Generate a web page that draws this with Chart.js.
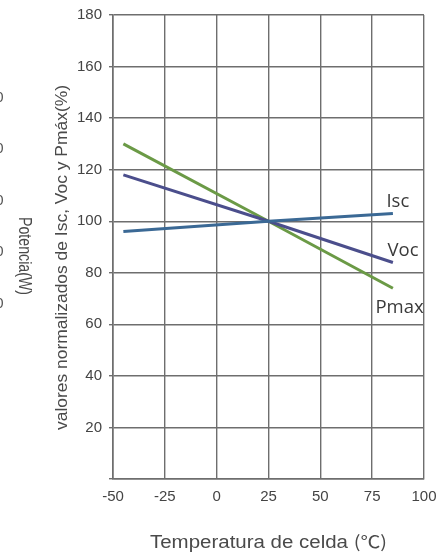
<!DOCTYPE html>
<html><head><meta charset="utf-8">
<script src="https://cdn.jsdelivr.net/npm/chart.js@4/dist/chart.umd.min.js"></script>
<style>html,body{margin:0;padding:0;background:#fff}#wrap{width:438px;height:555px}</style>
</head><body><div id="wrap"><canvas id="c" width="438" height="555"></canvas></div>
<script>
const temps = [-45, 25, 85];
const iscValues = [96, 100, 103];
const vocValues = [118, 100, 84];
const pmaxValues = [130, 100, 74];
const xTicks = [-50, -25, 0, 25, 50, 75, 100];
const yTicks = [20, 40, 60, 80, 100, 120, 140, 160, 180];
const seriesNames = ['Isc', 'Voc', 'Pmax'];
const seriesLabelX = [87.4, 89.9, 88.2];
const seriesLabelY = [105.6, 86.5, 64.5];
const cutLabelValues = [148, 128, 108, 88, 68];
const yTitle = 'valores normalizados de Isc, Voc y Pmáx(%)';
const y2Title = 'Potencia(W)';
const xTitleMain = 'Temperatura de celda ';
const xTitleUnit = '(℃)';

const toPts = v => temps.map((t, i) => ({x: t, y: v[i]}));
const colors = ['#3b6995', '#4b4e8c', '#6b9a46'];
const FONT = '"Liberation Sans", Arial, sans-serif';
const CJK = '"Noto Sans CJK JP", sans-serif';

function fitText(ctx, text, width) {
  const w = ctx.measureText(text).width;
  ctx.scale(width / w, 1);
  ctx.fillText(text, 0, 0);
}

const annot = {
  id: 'annot',
  afterDraw(chart) {
    const {ctx, chartArea: a, scales: {x, y}} = chart;
    ctx.save();
    ctx.fillStyle = '#3a3a3a';
    ctx.font = '18.5px "Open Sans", sans-serif';
    ctx.textAlign = 'center'; ctx.textBaseline = 'alphabetic';
    seriesNames.forEach((n, i) => {
      ctx.fillText(n, x.getPixelForValue(seriesLabelX[i]), y.getPixelForValue(seriesLabelY[i]));
    });
    ctx.fillStyle = '#4a4a4a';
    // x title: main part + CJK unit, total width ~237
    ctx.save();
    ctx.font = '17.5px ' + FONT;
    const w1 = ctx.measureText(xTitleMain).width;
    ctx.font = '17px ' + CJK;
    const w2 = ctx.measureText(xTitleUnit).width;
    const k = 237 / (w1 + w2);
    ctx.translate((a.left + a.right) / 2 - 237 / 2, 548);
    ctx.scale(k, 1);
    ctx.textAlign = 'left';
    ctx.font = '17.5px ' + FONT;
    ctx.fillText(xTitleMain, 0, 0);
    ctx.font = '17px ' + CJK;
    ctx.fillText(xTitleUnit, w1, 0);
    ctx.restore();
    // y title (rotated -90)
    ctx.font = '16px ' + FONT;
    ctx.save();
    ctx.translate(67, 257.5); ctx.rotate(-Math.PI / 2);
    fitText(ctx, yTitle, 345);
    ctx.restore();
    // secondary title (rotated +90)
    ctx.font = '17.5px ' + FONT;
    ctx.save();
    ctx.translate(18.5, 256); ctx.rotate(Math.PI / 2);
    fitText(ctx, y2Title, 78);
    ctx.restore();
    // clipped labels at far left
    ctx.font = '15px ' + FONT;
    ctx.fillStyle = '#555';
    ctx.textAlign = 'right'; ctx.textBaseline = 'middle';
    cutLabelValues.forEach(v => ctx.fillText('0', 3.5, y.getPixelForValue(v)));
    ctx.restore();
  }
};

new Chart(document.getElementById('c'), {
  type: 'scatter',
  data: {
    datasets: [
      {label: 'Isc', data: toPts(iscValues), showLine: true, borderColor: colors[0], borderWidth: 3, pointRadius: 0, fill: false},
      {label: 'Voc', data: toPts(vocValues), showLine: true, borderColor: colors[1], borderWidth: 3, pointRadius: 0, fill: false},
      {label: 'Pmax', data: toPts(pmaxValues), showLine: true, borderColor: colors[2], borderWidth: 3, pointRadius: 0, fill: false}
    ]
  },
  options: {
    responsive: false, animation: false,
    layout: {padding: {left: 0, right: 14, top: 15, bottom: 0}},
    plugins: {legend: {display: false}, tooltip: {enabled: false}},
    scales: {
      x: {
        type: 'linear', min: -50, max: 100,
        afterBuildTicks: s => { s.ticks = xTicks.map(v => ({value: v})); },
        afterFit: s => { s.height = 76; s.paddingLeft = 0; s.paddingRight = 0; },
        grid: {color: '#6e6e6e', lineWidth: 1.4, drawTicks: false},
        border: {color: '#6e6e6e', width: 1.6},
        ticks: {padding: 9, color: '#444', font: {family: FONT, size: 15}, maxRotation: 0}
      },
      y: {
        type: 'linear', min: 0, max: 180,
        afterBuildTicks: s => { s.ticks = [0].concat(yTicks).map(v => ({value: v})); },
        afterFit: s => { s.width = 113; s.paddingTop = 0; s.paddingBottom = 0; },
        grid: {color: '#6e6e6e', lineWidth: 1.4, drawTicks: true, tickLength: 4},
        border: {color: '#6e6e6e', width: 1.6},
        ticks: {padding: 7, color: '#444', font: {family: FONT, size: 15},
          callback: v => (yTicks.includes(v) ? String(v) : '')}
      }
    }
  },
  plugins: [annot]
});
</script></body></html>
